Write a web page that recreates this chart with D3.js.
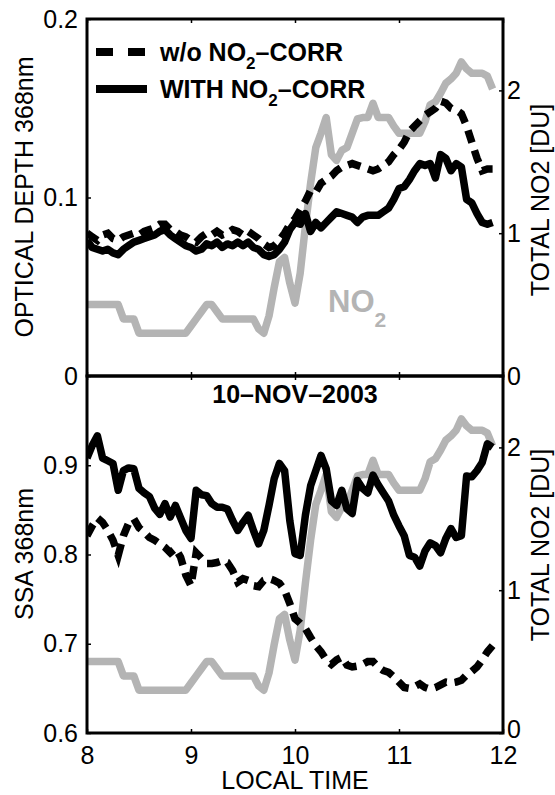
<!DOCTYPE html>
<html>
<head>
<meta charset="utf-8">
<script src="https://cdn.jsdelivr.net/npm/d3@7"></script>
<style>
  body { margin: 0; background: #fff; }
  text { font-family: "Liberation Sans", Arial, Helvetica, sans-serif; }
</style>
</head>
<body>
<svg id="chart" width="555" height="795"></svg>
<script>
// Local time of each sample (hours)
const times = [
  8.00, 8.05, 8.10, 8.15, 8.20, 8.25, 8.30, 8.35, 8.40, 8.45,
  8.50, 8.55, 8.60, 8.65, 8.70, 8.75, 8.80, 8.85, 8.90, 8.95,
  9.00, 9.05, 9.10, 9.15, 9.20, 9.25, 9.30, 9.35, 9.40, 9.45,
  9.50, 9.55, 9.60, 9.65, 9.70, 9.75, 9.80, 9.85, 9.90, 9.95,
  10.00, 10.05, 10.10, 10.15, 10.20, 10.25, 10.30, 10.35, 10.40, 10.45,
  10.50, 10.55, 10.60, 10.65, 10.70, 10.75, 10.80, 10.85, 10.90, 10.95,
  11.00, 11.05, 11.10, 11.15, 11.20, 11.25, 11.30, 11.35, 11.40, 11.45,
  11.50, 11.55, 11.60, 11.65, 11.70, 11.75, 11.80, 11.85, 11.90
];

// Total NO2 column [DU]
const no2 = [
  0.50, 0.50, 0.50, 0.50, 0.50, 0.50, 0.50, 0.40, 0.40, 0.40,
  0.30, 0.30, 0.30, 0.30, 0.30, 0.30, 0.30, 0.30, 0.30, 0.30,
  0.35, 0.40, 0.45, 0.50, 0.50, 0.45, 0.40, 0.40, 0.40, 0.40,
  0.40, 0.40, 0.40, 0.33, 0.30, 0.42, 0.62, 0.80, 0.83, 0.65,
  0.51, 0.72, 1.05, 1.35, 1.60, 1.70, 1.81, 1.55, 1.51, 1.58,
  1.60, 1.70, 1.80, 1.81, 1.81, 1.91, 1.81, 1.81, 1.81, 1.75,
  1.70, 1.70, 1.70, 1.70, 1.70, 1.78, 1.90, 1.92, 1.98, 2.05,
  2.08, 2.12, 2.20, 2.15, 2.12, 2.12, 2.12, 2.10, 2.01
];

// Aerosol optical depth at 368 nm
const odWith = [
  0.076, 0.072, 0.071, 0.070, 0.071, 0.069, 0.068, 0.071, 0.073, 0.075,
  0.076, 0.077, 0.078, 0.079, 0.081, 0.082, 0.079, 0.077, 0.075, 0.073,
  0.072, 0.070, 0.071, 0.074, 0.073, 0.075, 0.072, 0.074, 0.073, 0.075,
  0.073, 0.075, 0.072, 0.071, 0.068, 0.067, 0.068, 0.071, 0.075, 0.082,
  0.086, 0.085, 0.091, 0.081, 0.086, 0.083, 0.086, 0.089, 0.092, 0.091,
  0.090, 0.089, 0.086, 0.089, 0.090, 0.090, 0.090, 0.092, 0.094, 0.099,
  0.105, 0.106, 0.110, 0.115, 0.119, 0.118, 0.119, 0.111, 0.124, 0.122,
  0.115, 0.119, 0.117, 0.099, 0.097, 0.091, 0.086, 0.085, 0.086
];
const odWithout = [
  0.080, 0.078, 0.076, 0.079, 0.080, 0.077, 0.076, 0.078, 0.079, 0.080,
  0.079, 0.081, 0.082, 0.083, 0.085, 0.085, 0.082, 0.081, 0.079, 0.078,
  0.076, 0.075, 0.078, 0.080, 0.079, 0.081, 0.079, 0.080, 0.082, 0.081,
  0.079, 0.081, 0.079, 0.077, 0.074, 0.072, 0.073, 0.076, 0.080, 0.085,
  0.088, 0.093, 0.098, 0.104, 0.103, 0.108, 0.110, 0.112, 0.115, 0.117,
  0.118, 0.119, 0.118, 0.117, 0.116, 0.115, 0.116, 0.118, 0.120, 0.124,
  0.127, 0.131, 0.137, 0.140, 0.143, 0.146, 0.148, 0.150, 0.154, 0.153,
  0.150, 0.149, 0.147, 0.140, 0.131, 0.122, 0.115, 0.116, 0.116
];

// Single scattering albedo at 368 nm
const ssaWith = [
  0.908, 0.922, 0.933, 0.908, 0.905, 0.902, 0.872, 0.894, 0.897, 0.896,
  0.874, 0.869, 0.865, 0.852, 0.845, 0.857, 0.842, 0.855, 0.841, 0.827,
  0.818, 0.872, 0.867, 0.866, 0.857, 0.853, 0.853, 0.851, 0.838, 0.827,
  0.836, 0.844, 0.827, 0.812, 0.827, 0.855, 0.885, 0.902, 0.894, 0.838,
  0.801, 0.799, 0.844, 0.877, 0.894, 0.911, 0.896, 0.860, 0.855, 0.872,
  0.851, 0.846, 0.883, 0.874, 0.869, 0.889, 0.878, 0.869, 0.860, 0.844,
  0.832, 0.821, 0.799, 0.797, 0.787, 0.804, 0.813, 0.810, 0.802, 0.818,
  0.829, 0.819, 0.821, 0.888, 0.887, 0.894, 0.903, 0.924, 0.920
];
const ssaWithout = [
  0.821, 0.832, 0.841, 0.836, 0.827, 0.816, 0.799, 0.821, 0.835, 0.840,
  0.830, 0.825, 0.819, 0.816, 0.812, 0.808, 0.802, 0.807, 0.797, 0.777,
  0.765, 0.802, 0.796, 0.790, 0.790, 0.791, 0.793, 0.791, 0.782, 0.769,
  0.773, 0.771, 0.765, 0.764, 0.771, 0.773, 0.771, 0.768, 0.760, 0.745,
  0.728, 0.723, 0.717, 0.707, 0.698, 0.691, 0.682, 0.677, 0.682, 0.685,
  0.676, 0.674, 0.675, 0.677, 0.680, 0.680, 0.674, 0.670, 0.668, 0.663,
  0.657, 0.651, 0.650, 0.652, 0.655, 0.651, 0.649, 0.651, 0.654, 0.657,
  0.656, 0.657, 0.659, 0.665, 0.669, 0.674, 0.682, 0.691, 0.698
];

// Tick values and labels
const xTicks = [8, 9, 10, 11, 12];
const xTickLabels = ["8", "9", "10", "11", "12"];
const odTicks = [0, 0.1, 0.2];
const odTickLabels = ["0", "0.1", "0.2"];
const ssaTicks = [0.6, 0.7, 0.8, 0.9];
const ssaTickLabels = ["0.6", "0.7", "0.8", "0.9"];
const no2Ticks = [0, 1, 2];
const no2TickLabels = ["0", "1", "2"];

const seriesNames = ["w/o NO", "WITH NO"];
const dateLabel = "10\u2013NOV\u20132003";

const GRAY = "#b4b4b4";
const FONT = 25;
const LW = 7.5;

const svg = d3.select("#chart");
const L = 87, R = 503;
const topPanel = { y0: 19, y1: 376 };
const botPanel = { y0: 376, y1: 733 };

const x = d3.scaleLinear().domain([8, 12]).range([L, R]);
const yOd = d3.scaleLinear().domain([0, 0.2]).range([topPanel.y1, topPanel.y0]);
const yNo2Top = d3.scaleLinear().domain([0, 2.5]).range([topPanel.y1, topPanel.y0]);
const ySsa = d3.scaleLinear().domain([0.6, 1.0]).range([botPanel.y1, botPanel.y0]);
const yNo2Bot = d3.scaleLinear().domain([0, 2.5]).range([botPanel.y1, botPanel.y0]);

const defs = svg.append("defs");
function clipFor(id, p) {
  defs.append("clipPath").attr("id", id)
    .append("rect").attr("x", L).attr("y", p.y0).attr("width", R - L).attr("height", p.y1 - p.y0);
  return "url(#" + id + ")";
}

function drawLine(g, values, yScale, opts) {
  const line = d3.line()
    .x((d, i) => x(times[i]))
    .y(d => yScale(d));
  g.append("path")
    .datum(values)
    .attr("d", line)
    .attr("fill", "none")
    .attr("stroke", opts.color)
    .attr("stroke-width", LW)
    .attr("stroke-linejoin", opts.dash ? "miter" : "round")
    .attr("stroke-linecap", "butt")
    .attr("stroke-dasharray", opts.dash || null);
}

function styleAxis(g) {
  g.select(".domain").remove();
  g.selectAll(".tick line").attr("stroke", "#000").attr("stroke-width", 1.5);
  g.selectAll(".tick text").attr("font-size", FONT).attr("fill", "#000")
    .attr("font-family", "'Liberation Sans', Arial, sans-serif");
}

function panel(p, yLeft, yRight, leftVals, leftLabels, withVals, withoutVals, clipId, zeroShift) {
  const g = svg.append("g");
  const data = g.append("g").attr("clip-path", clipFor(clipId, p));
  drawLine(data, no2, yRight, { color: GRAY });
  drawLine(data, withoutVals, yLeft, { color: "#000", dash: "13,8" });
  drawLine(data, withVals, yLeft, { color: "#000" });

  // left axis
  g.append("g").attr("transform", `translate(${L},0)`)
    .call(d3.axisLeft(yLeft).tickValues(leftVals)
      .tickFormat((d, i) => leftLabels[i]).tickSize(-4).tickPadding(9))
    .call(styleAxis);
  // right axis
  const right = g.append("g").attr("transform", `translate(${R},0)`)
    .call(d3.axisRight(yRight).tickValues(no2Ticks)
      .tickFormat((d, i) => no2TickLabels[i]).tickSize(-4).tickPadding(4))
    .call(styleAxis);
  right.selectAll(".tick text").filter(d => d === 0).attr("y", -zeroShift);
  // inward ticks on top and bottom edges
  g.append("g").attr("transform", `translate(0,${p.y0})`)
    .call(d3.axisTop(x).tickValues(xTicks).tickFormat("").tickSize(-4))
    .call(styleAxis);
  g.append("g").attr("transform", `translate(0,${p.y1})`)
    .call(d3.axisBottom(x).tickValues(xTicks).tickFormat("").tickSize(-4))
    .call(styleAxis);

  g.append("rect")
    .attr("x", L).attr("y", p.y0)
    .attr("width", R - L).attr("height", p.y1 - p.y0)
    .attr("fill", "none").attr("stroke", "#000").attr("stroke-width", 3);
  return g;
}

panel(topPanel, yOd, yNo2Top, odTicks, odTickLabels, odWith, odWithout, "clipTop", 0);
panel(botPanel, ySsa, yNo2Bot, ssaTicks, ssaTickLabels, ssaWith, ssaWithout, "clipBot", 4);

// x tick labels under the lower panel
svg.append("g").attr("transform", `translate(0,${botPanel.y1})`)
  .call(d3.axisBottom(x).tickValues(xTicks)
    .tickFormat((d, i) => xTickLabels[i]).tickSize(0).tickPadding(13))
  .call(styleAxis);

// axis titles
function vtitle(cx, cy, label) {
  svg.append("text")
    .attr("transform", `translate(${cx},${cy}) rotate(-90)`)
    .attr("text-anchor", "middle")
    .attr("dominant-baseline", "central")
    .attr("font-size", FONT)
    .text(label);
}
vtitle(24, 197, "OPTICAL DEPTH 368nm");
vtitle(24, 554, "SSA 368nm");
vtitle(540, 200, "TOTAL NO2 [DU]");
vtitle(540, 545, "TOTAL NO2 [DU]");

svg.append("text")
  .attr("x", (L + R) / 2).attr("y", 789)
  .attr("text-anchor", "middle")
  .attr("font-size", FONT)
  .text("LOCAL TIME");

// date label in lower panel
svg.append("text")
  .attr("x", (L + R) / 2).attr("y", 403)
  .attr("text-anchor", "middle")
  .attr("font-size", FONT)
  .attr("font-weight", "bold")
  .text(dateLabel);

// legend
const legend = svg.append("g");
const legendRows = [
  { y: 52, dash: "17,15", name: seriesNames[0] },
  { y: 89, dash: null, name: seriesNames[1] }
];
legendRows.forEach(r => {
  legend.append("line")
    .attr("x1", 96).attr("x2", 147).attr("y1", r.y).attr("y2", r.y)
    .attr("stroke", "#000").attr("stroke-width", 8)
    .attr("stroke-dasharray", r.dash);
  const t = legend.append("text")
    .attr("x", 160).attr("y", r.y + 9)
    .attr("font-size", FONT).attr("font-weight", "bold");
  t.append("tspan").text(r.name);
  t.append("tspan").attr("font-size", 17).attr("dy", 8).text("2");
  t.append("tspan").attr("dy", -8).text("\u2013CORR");
});

// NO2 curve label
const no2Label = svg.append("text")
  .attr("x", 328).attr("y", 312)
  .attr("font-size", 31).attr("font-weight", "bold")
  .attr("fill", GRAY);
no2Label.append("tspan").text("NO");
no2Label.append("tspan").attr("font-size", 21).attr("dy", 15).text("2");
</script>
</body>
</html>
